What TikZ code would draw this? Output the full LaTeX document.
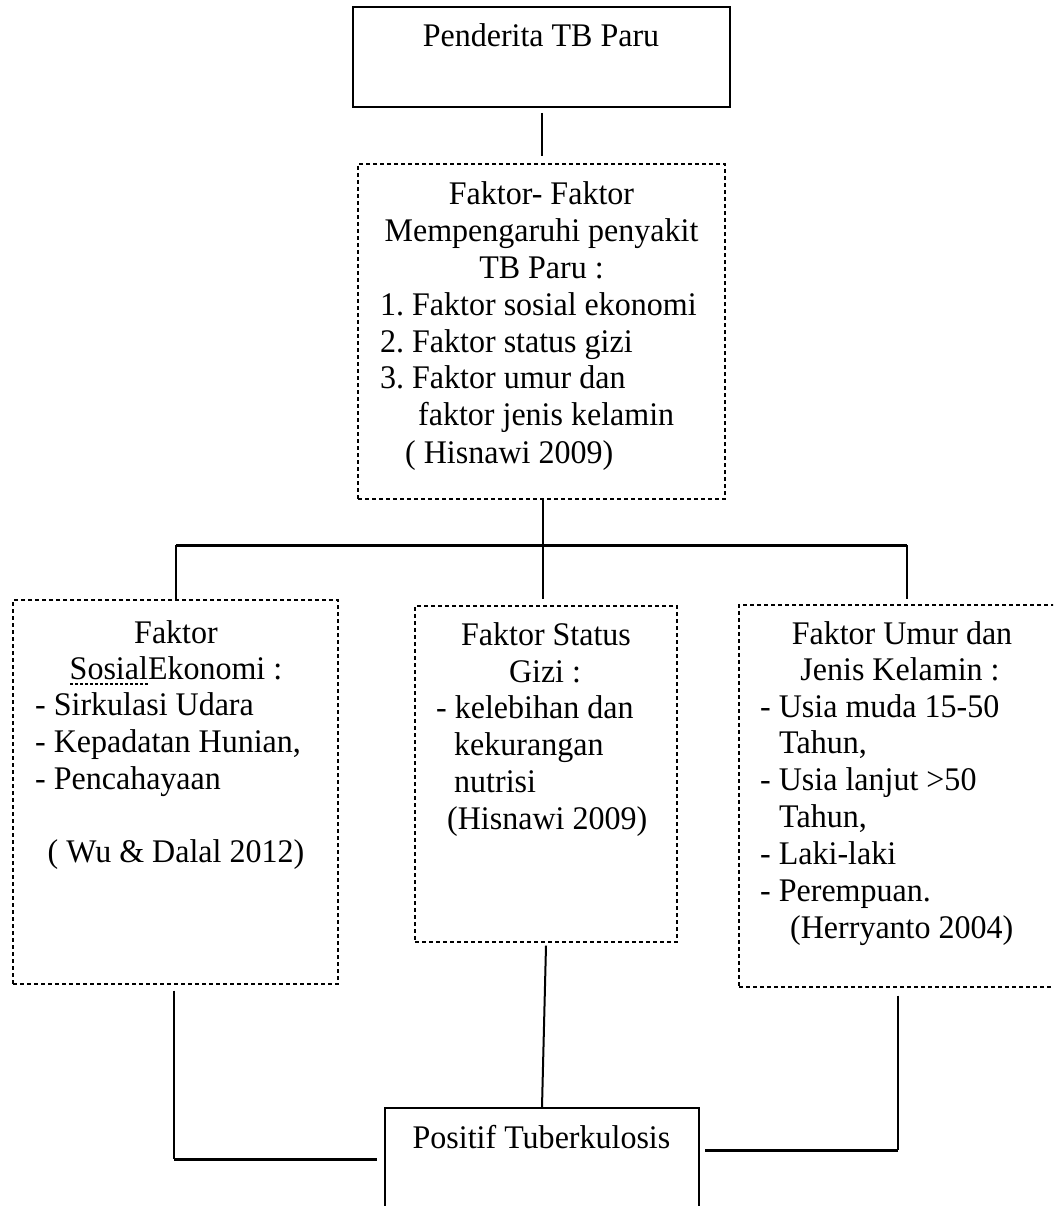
\documentclass[tikz,border=0pt]{standalone}
\usepackage{fontspec}
\setmainfont[FakeStretch=0.97]{Liberation Serif}
\frenchspacing
\begin{document}
\begin{tikzpicture}[x=1pt,y=-1pt,
  solidbox/.style={draw, line width=2pt, inner sep=0pt},
  dbox/.style={draw, line width=1.1pt, dash pattern=on 4pt off 3pt, inner sep=0pt},
  conn/.style={line width=2pt},
  busline/.style={line width=3pt},
  txt/.style={inner sep=0pt, font=\fontsize{33}{36.7}\selectfont},
  ctxt/.style={txt, anchor=base},
  ltxt/.style={txt, anchor=base west}]
\useasboundingbox (0,0) rectangle (1053,1206);
\clip (0,0) rectangle (1053,1206);

% boxes
\node[solidbox, minimum width=377pt, minimum height=100pt] (b1) at (541.5,57) {};
\node[dbox, minimum width=367pt, minimum height=335pt] (b2) at (541.5,331.5) {};
\node[dbox, minimum width=325pt, minimum height=384pt] (b3) at (175.5,792) {};
\node[dbox, minimum width=262pt, minimum height=336pt] (b4) at (546,774) {};
\node[dbox, minimum width=324pt, minimum height=382pt] (b5) at (901,796) {};
\node[solidbox, minimum width=314pt, minimum height=140pt] (b6) at (542,1178) {};

% texts
\node[ctxt] (t1) at (541,47) {Penderita TB Paru};

\node[ctxt] (t2a) at (541.5,205) {Faktor- Faktor};
\node[ctxt] (t2b) at (541.5,242) {Mempengaruhi penyakit};
\node[ctxt] (t2c) at (541.5,278) {TB Paru :};
\node[ltxt] (t2d) at (380,315) {1. Faktor sosial ekonomi};
\node[ltxt] (t2e) at (380,352) {2. Faktor status gizi};
\node[ltxt] (t2f) at (380,388) {3. Faktor umur dan};
\node[ltxt] (t2g) at (418,425) {faktor jenis kelamin};
\node[ltxt] (t2h) at (405,463) {( Hisnawi 2009)};

\node[ctxt] (t3a) at (176,643) {Faktor};
\node[ctxt] (t3b) at (176,679) {SosialEkonomi :};
\node[ltxt] (t3c) at (35,715) {- Sirkulasi Udara};
\node[ltxt] (t3d) at (35,752) {- Kepadatan Hunian,};
\node[ltxt] (t3e) at (35,789) {- Pencahayaan};
\node[ctxt] (t3f) at (176,862) {( Wu \& Dalal 2012)};
\draw[line width=1.2pt, dash pattern=on 3pt off 2pt] (70,684) -- (148,684);

\node[ctxt] (t4a) at (546,645) {Faktor Status};
\node[ctxt] (t4b) at (545,682) {Gizi :};
\node[ltxt] (t4c) at (436,718) {- kelebihan dan};
\node[ltxt] (t4d) at (454,755) {kekurangan};
\node[ltxt] (t4e) at (454,792) {nutrisi};
\node[ltxt] (t4f) at (447,829) {(Hisnawi 2009)};

\node[ctxt] (t5a) at (902,644) {Faktor Umur dan};
\node[ctxt] (t5b) at (900,680) {Jenis Kelamin :};
\node[ltxt] (t5c) at (760,717) {- Usia muda 15-50};
\node[ltxt] (t5d) at (779,753) {Tahun,};
\node[ltxt] (t5e) at (760,790) {- Usia lanjut >50};
\node[ltxt] (t5f) at (779,827) {Tahun,};
\node[ltxt] (t5g) at (760,864) {- Laki-laki};
\node[ltxt] (t5h) at (760,901) {- Perempuan.};
\node[ltxt] (t5i) at (790,938) {(Herryanto 2004)};

\node[ctxt] (t6) at (541.5,1148) {Positif Tuberkulosis};

% connectors
\draw[conn] ([yshift=-5pt]b1.south) -- ([yshift=7pt]b2.north);

\coordinate (busL) at (176,545);
\coordinate (busM) at (543,545);
\coordinate (busR) at (907,545);
\draw[conn] (b2.south -| busM) -- (busM) -- (busM |- b3.north);
\draw[busline] (busL) -- (busR);
\draw[conn] (busL) -- (b3.north -| busL);
\draw[conn] (busR) -- (busR |- b3.north);

\coordinate (cL) at (174,1159);
\coordinate (cR) at (898,1150);
\draw[conn] ([yshift=-6pt]b3.south -| cL) -- (cL);
\draw[busline] (cL) -- ([xshift=-7pt]b6.west |- cL);
\draw[conn] ([yshift=-3pt]b4.south) -- (b6.north);
\draw[conn] ([yshift=-8pt]b5.south -| cR) -- (cR);
\draw[busline] (cR) -- ([xshift=5pt]b6.east |- cR);
\end{tikzpicture}
\end{document}
